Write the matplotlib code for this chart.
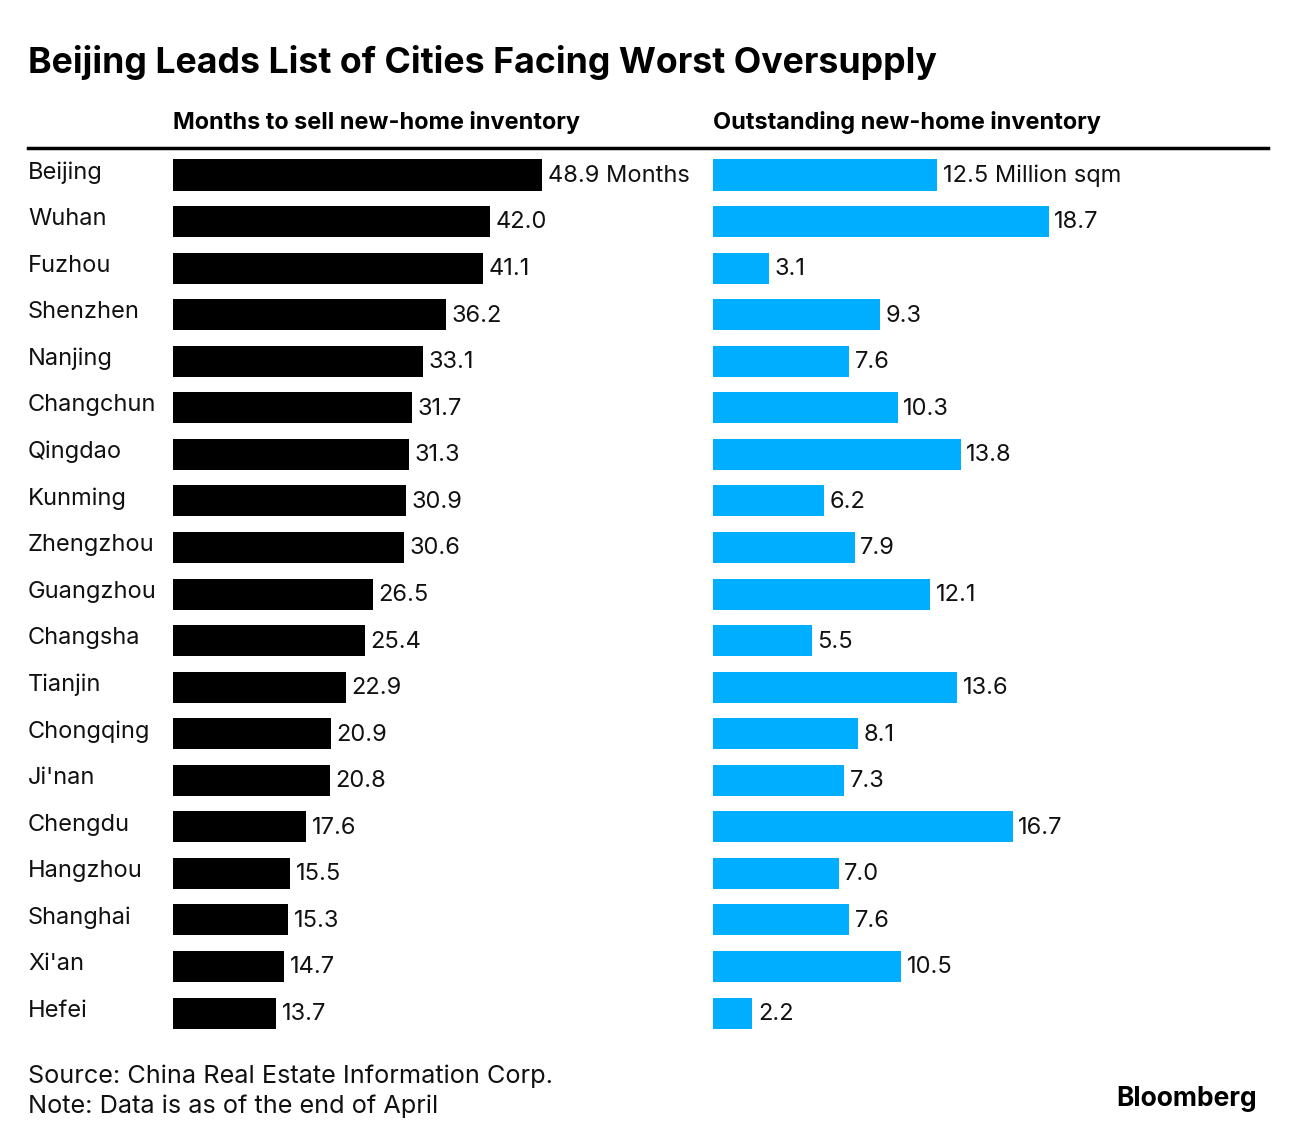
import matplotlib.pyplot as plt
from matplotlib import transforms

plt.rcParams['font.family'] = ['Inter', 'DejaVu Sans']

cities = ['Beijing', 'Wuhan', 'Fuzhou', 'Shenzhen', 'Nanjing', 'Changchun', 'Qingdao',
          'Kunming', 'Zhengzhou', 'Guangzhou', 'Changsha', 'Tianjin', 'Chongqing',
          "Ji'nan", 'Chengdu', 'Hangzhou', 'Shanghai', "Xi'an", 'Hefei']
months = [48.9, 42.0, 41.1, 36.2, 33.1, 31.7, 31.3, 30.9, 30.6, 26.5, 25.4, 22.9,
          20.9, 20.8, 17.6, 15.5, 15.3, 14.7, 13.7]
inventory = [12.5, 18.7, 3.1, 9.3, 7.6, 10.3, 13.8, 6.2, 7.9, 12.1, 5.5, 13.6,
             8.1, 7.3, 16.7, 7.0, 7.6, 10.5, 2.2]

W, H = 1296, 1144
fig = plt.figure(figsize=(W / 100, H / 100), dpi=100)


def px_axes(x0, y0, x1, y1):
    # pixel box (top-left origin) -> axes
    return fig.add_axes([x0 / W, 1 - y1 / H, (x1 - x0) / W, (y1 - y0) / H])


top, bottom = 150, 1040
row0, step = 175, 46.56
ylim = ((bottom - row0) / step, (top - row0) / step)

ax1 = px_axes(173, top, 705, bottom)
ax2 = px_axes(713, top, 1268, bottom)
ax1.set_xlim(0, (705 - 173) / 7.546)
ax2.set_xlim(0, (1268 - 713) / 17.95)

ypos = list(range(len(cities)))
ax1.barh(ypos, months, height=0.666, color='black')
ax2.barh(ypos, inventory, height=0.666, color='#00AEFF')

for ax in (ax1, ax2):
    ax.set_ylim(*ylim)
    ax.axis('off')

for i, v in enumerate(months):
    label = f'{v:.1f} Months' if i == 0 else f'{v:.1f}'
    ax1.text(v + 0.75, i + 0.02, label, va='center', ha='left', fontsize=17, color='#111111')
for i, v in enumerate(inventory):
    label = f'{v:.1f} Million sqm' if i == 0 else f'{v:.1f}'
    ax2.text(v + 0.3, i + 0.02, label, va='center', ha='left', fontsize=17, color='#111111')

trans = transforms.blended_transform_factory(fig.transFigure, ax1.transData)
for i, c in enumerate(cities):
    ax1.text(28 / W, i - 0.05, c, transform=trans, va='center', ha='left',
             fontsize=17, color='#111111')

fig.text(28 / W, 1 - 63 / H, 'Beijing Leads List of Cities Facing Worst Oversupply',
         fontsize=25.7, fontweight='bold', va='center', ha='left')
fig.text(173 / W, 1 - 122 / H, 'Months to sell new-home inventory',
         fontsize=16.9, fontweight='bold', va='center', ha='left')
fig.text(713 / W, 1 - 122 / H, 'Outstanding new-home inventory',
         fontsize=16.9, fontweight='bold', va='center', ha='left')
fig.add_artist(plt.Line2D([28 / W, 1268 / W], [1 - 148 / H, 1 - 148 / H],
                          color='black', linewidth=2.5))

fig.text(28 / W, 1 - 1076 / H, 'Source: China Real Estate Information Corp.',
         fontsize=18.2, va='center', ha='left', color='#111111')
fig.text(28 / W, 1 - 1106 / H, 'Note: Data is as of the end of April',
         fontsize=18.2, va='center', ha='left', color='#111111')
fig.text(1257 / W, 1 - 1099 / H, 'Bloomberg', fontsize=19, fontweight='bold',
         va='center', ha='right')

plt.savefig('out.png', dpi=100)
